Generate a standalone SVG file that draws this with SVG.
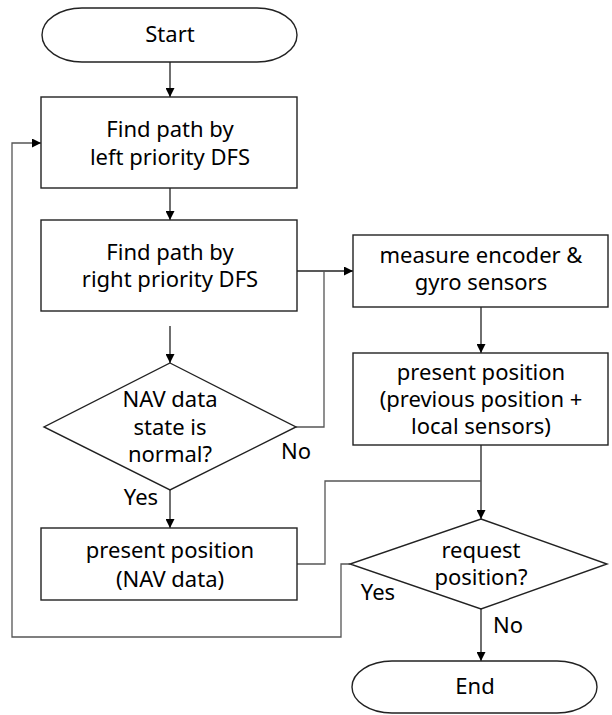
<svg xmlns="http://www.w3.org/2000/svg" width="612" height="715" viewBox="0 0 612 715">
<defs>
<marker id="ah" viewBox="0 0 10 10" refX="10" refY="5" markerWidth="9" markerHeight="9" markerUnits="userSpaceOnUse" orient="auto">
<path d="M0,0 L10,5 L0,10 z" fill="#000"/>
</marker>
<style>
.shape{fill:#fff;stroke:#222;stroke-width:1.4}
.t{font-family:"Noto Sans","Open Sans",sans-serif;font-size:22px;fill:#000;text-anchor:middle}
.c{fill:none;stroke:#222;stroke-width:1.3}
.a{marker-end:url(#ah)}
.g{stroke:#555}
</style>
</defs>
<rect width="612" height="715" fill="#fff"/>
<g id="connectors">
<path class="c a" d="M170,62 V97"/>
<path class="c a" d="M170,188 V220"/>
<path class="c a" d="M297,271 H353"/>
<path class="c g" d="M296,427 H324 V271"/>
<path class="c a" d="M170,326 V363"/>
<path class="c a" d="M170,490 V528"/>
<path class="c a" d="M481,307 V353"/>
<path class="c a" d="M481,445 V519"/>
<path class="c g" d="M297,564 H325 V481 H481"/>
<path class="c g a" d="M350,564 H341 V637 H12 V143 H41"/>
<path class="c a" d="M481,609 V661"/>
</g>
<g id="start">
<rect class="shape" x="42" y="8" width="255" height="54" rx="40" ry="27"/>
<text class="t" x="170" y="42">Start</text>
</g>
<g id="left-dfs">
<rect class="shape" x="41" y="97" width="256" height="91"/>
<text class="t" x="170" y="137">Find path by</text>
<text class="t" x="170" y="165">left priority DFS</text>
</g>
<g id="right-dfs">
<rect class="shape" x="41" y="220" width="256" height="91"/>
<text class="t" x="170" y="260">Find path by</text>
<text class="t" x="170" y="287">right priority DFS</text>
</g>
<g id="nav-check">
<polygon class="shape" points="170,363 296,427 170,490 44,427"/>
<text class="t" x="170" y="407">NAV data</text>
<text class="t" x="170" y="435">state is</text>
<text class="t" x="170" y="462">normal?</text>
<text class="t" x="296" y="459">No</text>
<text class="t" x="141" y="505">Yes</text>
</g>
<g id="measure">
<rect class="shape" x="353" y="235" width="255" height="72"/>
<text class="t" x="481" y="263">measure encoder &amp;</text>
<text class="t" x="481" y="290">gyro sensors</text>
</g>
<g id="pos-local">
<rect class="shape" x="353" y="353" width="255" height="92"/>
<text class="t" x="481" y="380">present position</text>
<text class="t" x="481" y="407">(previous position +</text>
<text class="t" x="481" y="434">local sensors)</text>
</g>
<g id="pos-nav">
<rect class="shape" x="41" y="528" width="256" height="72"/>
<text class="t" x="170" y="558">present position</text>
<text class="t" x="170" y="587">(NAV data)</text>
</g>
<g id="request">
<polygon class="shape" points="481,519 607,564 481,609 350,564"/>
<text class="t" x="481" y="558">request</text>
<text class="t" x="481" y="585">position?</text>
<text class="t" x="378" y="600">Yes</text>
<text class="t" x="508" y="633">No</text>
</g>
<g id="end">
<rect class="shape" x="352" y="661" width="245" height="52" rx="40" ry="26"/>
<text class="t" x="475" y="694">End</text>
</g>
</svg>
